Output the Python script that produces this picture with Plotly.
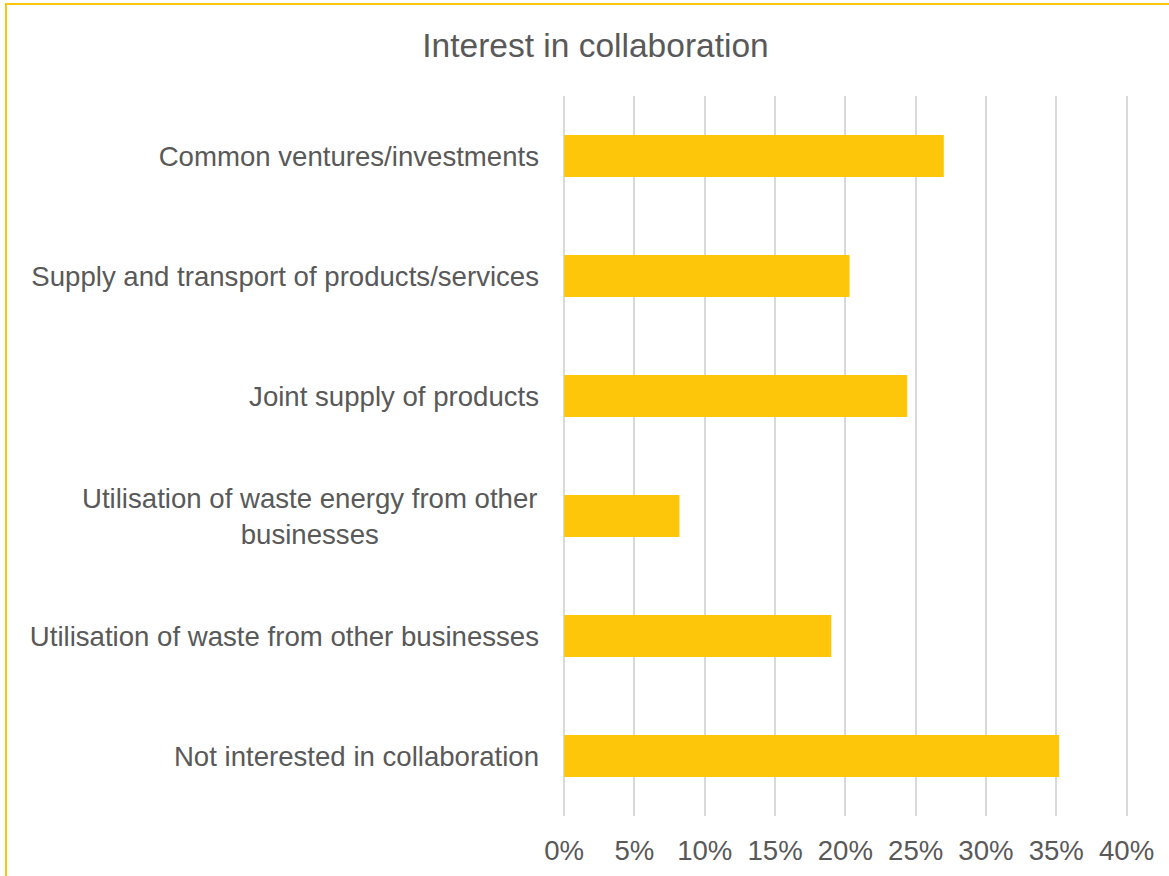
"""Interest in collaboration - horizontal bar chart."""
import plotly.graph_objects as go

categories = [
    "Common ventures/investments",
    "Supply and transport of products/services",
    "Joint supply of products",
    "Utilisation of waste energy from other<br>businesses",
    "Utilisation of waste from other businesses",
    "Not interested in collaboration",
]
shares = [0.270, 0.203, 0.244, 0.082, 0.190, 0.352]
x_ticks = [0, 0.05, 0.10, 0.15, 0.20, 0.25, 0.30, 0.35, 0.40]

YELLOW = "#FDC60A"
GREY_TEXT = "#595959"
FONT = "Liberation Sans, Arial, sans-serif"
FS = 27.6

W, H = 1169, 876
L, R, T, B = 563, 41, 96, 60

# multi-line labels are centred in the original, so they go in as annotations
tick_text = ["" if "<br>" in c else c for c in categories]

fig = go.Figure(
    go.Bar(
        y=categories, x=shares, orientation="h",
        marker_color=YELLOW, marker_line_width=0,
    )
)

for c in categories:
    if "<br>" in c:
        fig.add_annotation(
            text=c, xref="paper", yref="y", x=0, y=c,
            xanchor="right", xshift=-23, align="center", showarrow=False,
            font={"size": FS, "color": GREY_TEXT, "family": FONT},
        )

# chart border (only top and left are inside the crop)
pw, ph = W - L - R, H - T - B
fig.add_shape(
    type="rect", xref="paper", yref="paper",
    x0=(6 - L) / pw, x1=(W + 20 - L) / pw,
    y0=(H - B - (H + 20)) / ph, y1=(H - B - 4) / ph,
    line={"color": YELLOW, "width": 2}, fillcolor="rgba(0,0,0,0)",
)

fig.update_layout(
    width=W, height=H,
    paper_bgcolor="white", plot_bgcolor="white",
    margin={"l": L, "r": R, "t": T, "b": B},
    bargap=0.65, showlegend=False,
    font={"family": FONT, "color": GREY_TEXT, "size": FS},
    title={
        "text": "Interest in collaboration", "xref": "container", "yref": "container",
        "x": 595.5 / W, "y": 1 - 45 / H, "xanchor": "center", "yanchor": "middle",
        "font": {"size": 33.5, "color": GREY_TEXT, "family": FONT},
    },
    xaxis={
        "range": [-0.0008, 0.401], "tickvals": x_ticks, "tickformat": ".0%",
        "showgrid": True, "gridcolor": "#D9D9D9", "gridwidth": 1.5,
        "zeroline": False, "showline": False, "ticklabelstandoff": 15,
        "automargin": False,
        "tickfont": {"size": FS, "color": GREY_TEXT},
    },
    yaxis={
        "autorange": "reversed", "tickvals": categories, "ticktext": tick_text,
        "showgrid": False, "zeroline": False, "showline": False,
        "ticklabelstandoff": 23, "automargin": False,
        "tickfont": {"size": FS, "color": GREY_TEXT},
    },
)

fig.write_html(
    "out.html",
    config={"displayModeBar": False},
    post_script="document.body.style.margin='0';",
)
